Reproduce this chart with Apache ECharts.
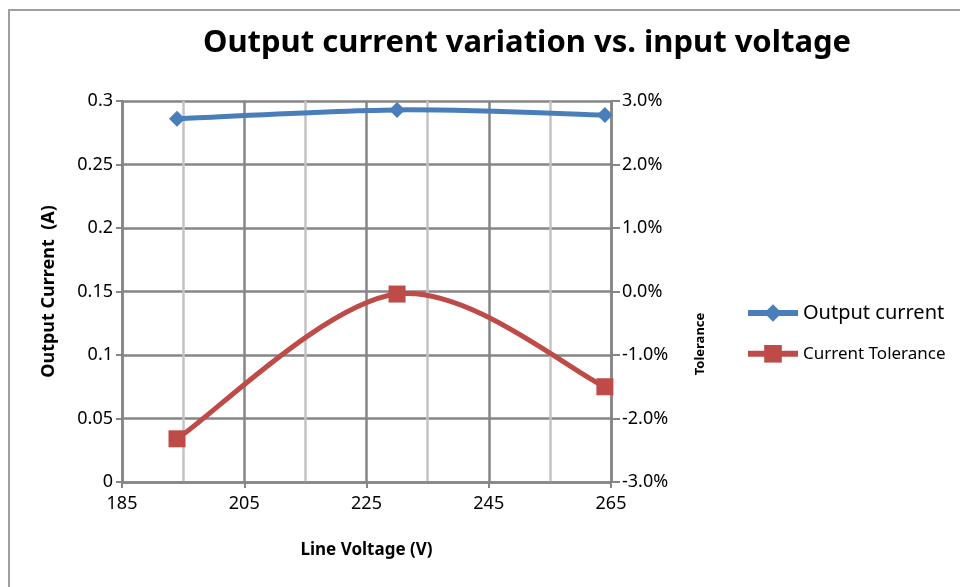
<!DOCTYPE html>
<html>
<head>
<meta charset="utf-8">
<script src="https://cdn.jsdelivr.net/npm/echarts@6/dist/echarts.min.js"></script>
<style>html,body{margin:0;padding:0;background:#fff}#c{width:960px;height:587px}</style>
</head>
<body>
<div id="c"></div>
<script>
var lineVoltage = [194, 230, 264];
var outputCurrent = [0.286, 0.293, 0.289];
var currentTolerance = [-2.32, -0.04, -1.50];
var xTicks = [185, 205, 225, 245, 265];

var FONT = 'Noto Sans';
var BLUE = '#4a7ebb', RED = '#be4b48';
var chart = echarts.init(document.getElementById('c'), null, {renderer: 'canvas'});
function pairs(xs, ys) { return xs.map(function (x, i) { return [x, ys[i]]; }); }

// Spreadsheet-style smoothed curve (Bezier, tangent = (next - prev) / 6), positions from axis scales
function smoothCurve(xs, ys, color) {
  return function (params, api) {
    if (params.dataIndex !== 0) return null;
    var p = xs.map(function (x, i) { return api.coord([x, ys[i]]); });
    var n = p.length, d = 'M' + p[0][0] + ' ' + p[0][1];
    for (var i = 0; i < n - 1; i++) {
      var a = p[i - 1] || p[i], b = p[i], c = p[i + 1], e = p[i + 2] || p[i + 1];
      var c1x = b[0] + (c[0] - a[0]) / 6, c1y = b[1] + (c[1] - a[1]) / 6;
      var c2x = c[0] - (e[0] - b[0]) / 6, c2y = c[1] - (e[1] - b[1]) / 6;
      d += ' C' + c1x + ' ' + c1y + ' ' + c2x + ' ' + c2y + ' ' + c[0] + ' ' + c[1];
    }
    return {type: 'path', shape: {pathData: d},
      style: {stroke: color, lineWidth: 5, fill: null, lineJoin: 'round', lineCap: 'round'}};
  };
}

chart.setOption({
  animation: false,
  backgroundColor: '#fff',
  textStyle: {fontFamily: FONT},
  graphic: [{
    type: 'rect', shape: {x: 9, y: 10, width: 1000, height: 1000},
    style: {fill: 'none', stroke: '#a0a0a0', lineWidth: 2}, z: -1
  }, {
    type: 'text', x: 700, y: 344, rotation: Math.PI / 2,
    style: {text: 'Tolerance', fontFamily: FONT, fontWeight: 'bold', fontSize: 13,
      fill: '#000', align: 'center', verticalAlign: 'middle'}
  }],
  title: {
    text: 'Output current variation vs. input voltage',
    left: 522, top: 23, textAlign: 'center',
    textStyle: {fontFamily: FONT, fontWeight: 'bold', fontSize: 31, color: '#000'}
  },
  grid: {left: 122, right: 349, top: 101, bottom: 105},
  legend: {
    orient: 'vertical', left: 740, top: 298, itemGap: 22,
    itemWidth: 50, itemHeight: 22,
    data: [
      {name: 'Output current', lineStyle: {color: BLUE, width: 6, opacity: 1},
        textStyle: {fontSize: 20, color: '#000', fontFamily: FONT}},
      {name: 'Current Tolerance', lineStyle: {color: RED, width: 6, opacity: 1},
        textStyle: {fontSize: 17, color: '#000', fontFamily: FONT}}
    ]
  },
  xAxis: {
    type: 'value', min: 185, max: 265, interval: 20,
    name: 'Line Voltage (V)', nameLocation: 'middle', nameGap: 60,
    nameTextStyle: {fontWeight: 'bold', fontSize: 17, color: '#000', fontFamily: FONT},
    axisLine: {lineStyle: {color: '#868686', width: 2.5}},
    axisTick: {show: true, length: 6, lineStyle: {color: '#868686', width: 2}},
    axisLabel: {fontSize: 18, color: '#000', margin: 13, fontFamily: FONT,
      formatter: function (v) { return xTicks.indexOf(v) >= 0 ? String(v) : ''; }},
    splitLine: {show: true, lineStyle: {color: '#868686', width: 2.5}},
    minorTick: {show: false, splitNumber: 2},
    minorSplitLine: {show: true, lineStyle: {color: '#c3c3c3', width: 2.5}}
  },
  yAxis: [{
    type: 'value', min: 0, max: 0.3, interval: 0.05, position: 'left',
    name: 'Output Current  (A)', nameLocation: 'middle', nameGap: 64, nameRotate: 90,
    nameTextStyle: {fontWeight: 'bold', fontSize: 18, color: '#000', fontFamily: FONT},
    axisLine: {show: true, lineStyle: {color: '#868686', width: 2.5}},
    axisTick: {show: true, length: 6, lineStyle: {color: '#868686', width: 2}},
    axisLabel: {fontSize: 18, color: '#000', margin: 9, fontFamily: FONT,
      formatter: function (v) { return String(+v.toFixed(2)); }},
    splitLine: {show: true, lineStyle: {color: '#868686', width: 2.5}}
  }, {
    type: 'value', min: -3, max: 3, interval: 1, position: 'right',
    axisLine: {show: true, lineStyle: {color: '#868686', width: 2.5}},
    axisTick: {show: true, length: 9, lineStyle: {color: '#868686', width: 2}},
    axisLabel: {fontSize: 18, color: '#000', margin: 11, fontFamily: FONT,
      formatter: function (v) { return v.toFixed(1) + '%'; }},
    splitLine: {show: false}
  }],
  series: [{
    type: 'custom', yAxisIndex: 0, z: 2, silent: true,
    data: pairs(lineVoltage, outputCurrent),
    renderItem: smoothCurve(lineVoltage, outputCurrent, BLUE)
  }, {
    type: 'custom', yAxisIndex: 1, z: 2, silent: true,
    data: pairs(lineVoltage, currentTolerance),
    renderItem: smoothCurve(lineVoltage, currentTolerance, RED)
  }, {
    name: 'Output current', type: 'line', yAxisIndex: 0,
    data: pairs(lineVoltage, outputCurrent),
    symbol: 'diamond', symbolSize: 16,
    lineStyle: {color: BLUE, width: 5, opacity: 0},
    itemStyle: {color: BLUE}, z: 3
  }, {
    name: 'Current Tolerance', type: 'line', yAxisIndex: 1,
    data: pairs(lineVoltage, currentTolerance),
    symbol: 'rect', symbolSize: 17,
    lineStyle: {color: RED, width: 5, opacity: 0},
    itemStyle: {color: RED}, z: 3
  }]
});
</script>
</body>
</html>
